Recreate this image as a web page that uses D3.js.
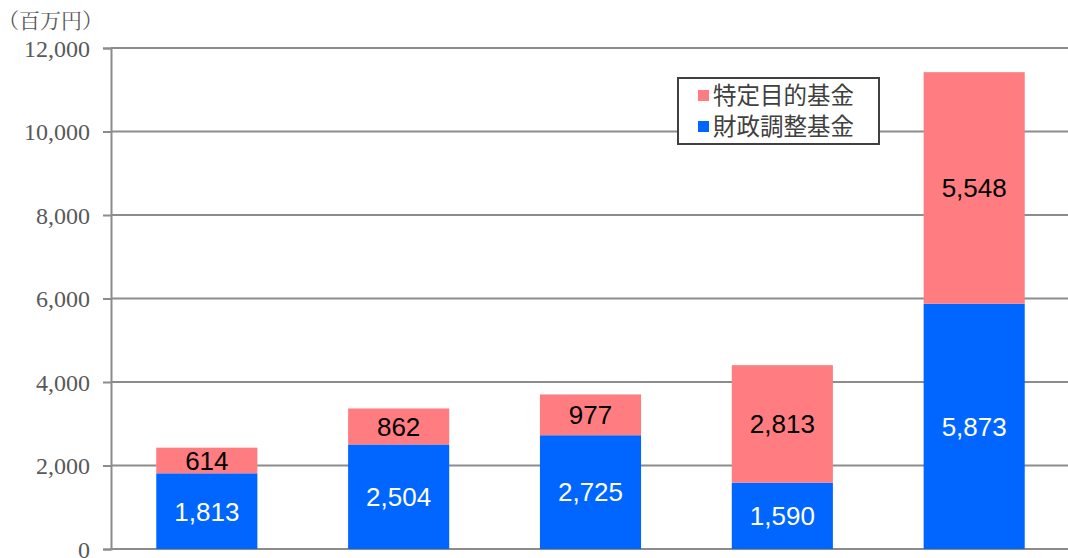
<!DOCTYPE html>
<html>
<head>
<meta charset="utf-8">
<script src="https://cdn.jsdelivr.net/npm/d3@7"></script>
<style>
  body { margin: 0; background: #fff; }
  svg { display: block; }
</style>
</head>
<body>
<div id="chart"></div>
<script>
// data
const categories = ["A", "B", "C", "D", "E"];
const zaiseiValues = [1813, 2504, 2725, 1590, 5873];   // 財政調整基金
const tokuteiValues = [614, 862, 977, 2813, 5548];     // 特定目的基金
const yTicks = [0, 2000, 4000, 6000, 8000, 10000, 12000];
const seriesNames = ["特定目的基金", "財政調整基金"];
const unitLabel = "（百万円）";

const W = 1068, H = 558;
const plotLeft = 111, plotTop = 48, plotBottom = 549, plotRight = 1070;

const svg = d3.select("#chart").append("svg")
  .attr("width", W).attr("height", H);

const x = d3.scaleBand()
  .domain(categories)
  .range([plotLeft, plotRight])
  .paddingInner(0.473)
  .paddingOuter(0.236);

const y = d3.scaleLinear()
  .domain([0, 12000])
  .range([plotBottom, plotTop]);

// grid lines
svg.append("g")
  .selectAll("line")
  .data(yTicks)
  .enter().append("line")
  .attr("x1", plotLeft).attr("x2", W)
  .attr("y1", d => y(d)).attr("y2", d => y(d))
  .attr("stroke", "#8c8c8c")
  .attr("stroke-width", 2);

// y axis
const yAxis = svg.append("g")
  .attr("transform", "translate(" + plotLeft + ",0)")
  .call(d3.axisLeft(y).tickValues(yTicks).tickSize(8).tickPadding(13)
    .tickFormat(d3.format(",")));
yAxis.attr("font-family", "'Liberation Serif', 'DejaVu Serif', serif")
  .attr("font-size", 24);
yAxis.select(".domain").attr("stroke", "#8c8c8c").attr("stroke-width", 2);
yAxis.selectAll(".tick line").attr("stroke", "#8c8c8c").attr("stroke-width", 2);
yAxis.selectAll(".tick text")
  .attr("fill", "#595959")
  .attr("dy", "0.34em");

// stacked bars
const rows = categories.map((c, i) => ({ cat: c, z: zaiseiValues[i], t: tokuteiValues[i] }));

const bars = svg.append("g");
bars.selectAll("rect.z")
  .data(rows).enter().append("rect")
  .attr("class", "z")
  .attr("x", d => x(d.cat))
  .attr("width", x.bandwidth())
  .attr("y", d => y(d.z))
  .attr("height", d => y(0) - y(d.z))
  .attr("fill", "#0066ff");

bars.selectAll("rect.t")
  .data(rows).enter().append("rect")
  .attr("class", "t")
  .attr("x", d => x(d.cat))
  .attr("width", x.bandwidth())
  .attr("y", d => y(d.z + d.t))
  .attr("height", d => y(d.z) - y(d.z + d.t))
  .attr("fill", "#ff7c80");

// value labels
const fmt = d3.format(",");
bars.selectAll("text.z")
  .data(rows).enter().append("text")
  .attr("class", "z")
  .attr("x", d => x(d.cat) + x.bandwidth() / 2)
  .attr("y", d => (y(0) + y(d.z)) / 2)
  .attr("dy", "0.36em")
  .attr("text-anchor", "middle")
  .attr("fill", "#fff")
  .style("font-family", "'Liberation Sans', Arial, sans-serif")
  .style("font-size", "26px")
  .text(d => fmt(d.z));

bars.selectAll("text.t")
  .data(rows).enter().append("text")
  .attr("class", "t")
  .attr("x", d => x(d.cat) + x.bandwidth() / 2)
  .attr("y", d => (y(d.z) + y(d.z + d.t)) / 2)
  .attr("dy", "0.36em")
  .attr("text-anchor", "middle")
  .attr("fill", "#000")
  .style("font-family", "'Liberation Sans', Arial, sans-serif")
  .style("font-size", "26px")
  .text(d => fmt(d.t));

// unit label
svg.append("text")
  .attr("x", -2).attr("y", 28)
  .attr("fill", "#595959")
  .style("font-family", "'Noto Serif CJK JP', 'Noto Sans CJK JP', serif")
  .style("font-size", "21px")
  .text(unitLabel);

// legend
const legend = svg.append("g").attr("transform", "translate(678,78)");
legend.append("rect")
  .attr("width", 201).attr("height", 66)
  .attr("fill", "#fff")
  .attr("stroke", "#404040")
  .attr("stroke-width", 2);
const legendColors = ["#ff7c80", "#0066ff"];
seriesNames.forEach((name, i) => {
  legend.append("rect")
    .attr("x", 20).attr("y", 12 + i * 31)
    .attr("width", 11).attr("height", 11)
    .attr("fill", legendColors[i]);
  legend.append("text")
    .attr("x", 35).attr("y", 18 + i * 31)
    .attr("dy", "0.36em")
    .attr("fill", "#404040")
    .style("font-family", "'Noto Sans CJK JP', sans-serif")
    .style("font-size", "23.5px")
    .text(name);
});
</script>
</body>
</html>
